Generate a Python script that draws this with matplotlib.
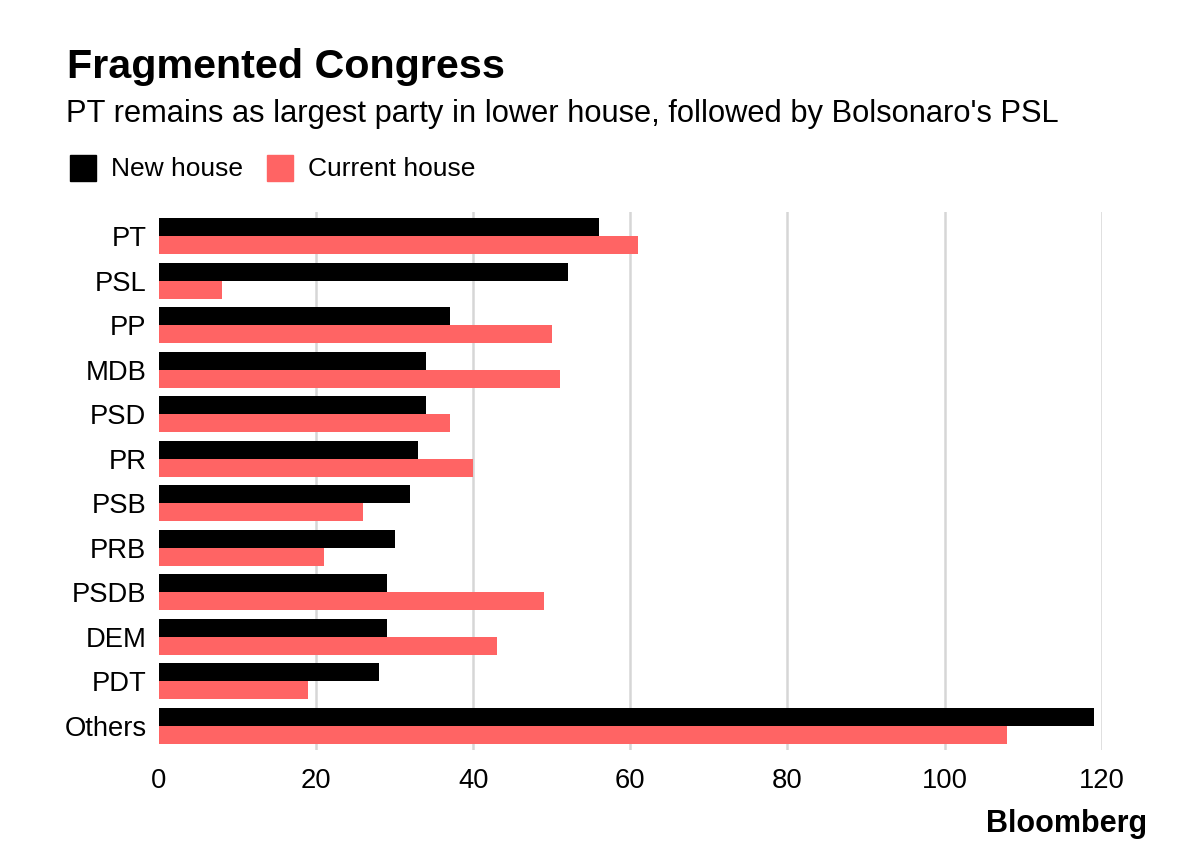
import numpy as np
import matplotlib
matplotlib.use("Agg")
import matplotlib.pyplot as plt
from matplotlib.patches import Rectangle

plt.rcParams['font.family'] = ['Liberation Sans', 'DejaVu Sans']

parties = ["PT", "PSL", "PP", "MDB", "PSD", "PR", "PSB", "PRB", "PSDB", "DEM", "PDT", "Others"]
new_house = [56, 52, 37, 34, 34, 33, 32, 30, 29, 29, 28, 119]
current_house = [61, 8, 50, 51, 37, 40, 26, 21, 49, 43, 19, 108]

black = "#000000"
red = "#ff6464"

fig = plt.figure(figsize=(11.78, 8.6), dpi=100)
ax = fig.add_axes([159 / 1178, 1 - 750 / 860, (1101.7 - 159) / 1178, 538 / 860])

y = np.arange(len(parties))
h = 0.405
ax.barh(y - h / 2, new_house, height=h, color=black, zorder=3)
ax.barh(y + h / 2, current_house, height=h, color=red, zorder=3)

ax.set_xlim(0, 120)
ax.set_ylim(len(parties) - 0.46, -0.54)
ax.set_xticks(range(0, 121, 20))
ax.set_yticks(y)
ax.set_yticklabels(parties)
for x in range(20, 121, 20):
    ax.axvline(x, color="#d6d6d6", lw=1.8, zorder=1)

for s in ax.spines.values():
    s.set_visible(False)
ax.tick_params(axis="both", length=0, labelsize=19.7, colors="#000000")
ax.tick_params(axis="x", pad=13)
ax.tick_params(axis="y", pad=9)

# header
fig.text(67 / 1178, 1 - 78 / 860, "Fragmented Congress", fontsize=29.7,
         fontweight="bold", ha="left", va="baseline")
fig.text(66 / 1178, 1 - 122 / 860,
         "PT remains as largest party in lower house, followed by Bolsonaro's PSL",
         fontsize=22.2, ha="left", va="baseline")

# legend
fig.patches.append(Rectangle((70 / 1178, 1 - 181 / 860), 26 / 1178, 26 / 860,
                             transform=fig.transFigure, color=black))
fig.text(111 / 1178, 1 - 176 / 860, "New house", fontsize=19, ha="left", va="baseline")
fig.patches.append(Rectangle((267 / 1178, 1 - 181 / 860), 26 / 1178, 26 / 860,
                             transform=fig.transFigure, color=red))
fig.text(308 / 1178, 1 - 176 / 860, "Current house", fontsize=19, ha="left", va="baseline")

fig.text(1147 / 1178, 1 - 832 / 860, "Bloomberg", fontsize=22, fontweight="bold",
         ha="right", va="baseline")

fig.savefig("out.png", dpi=100)
